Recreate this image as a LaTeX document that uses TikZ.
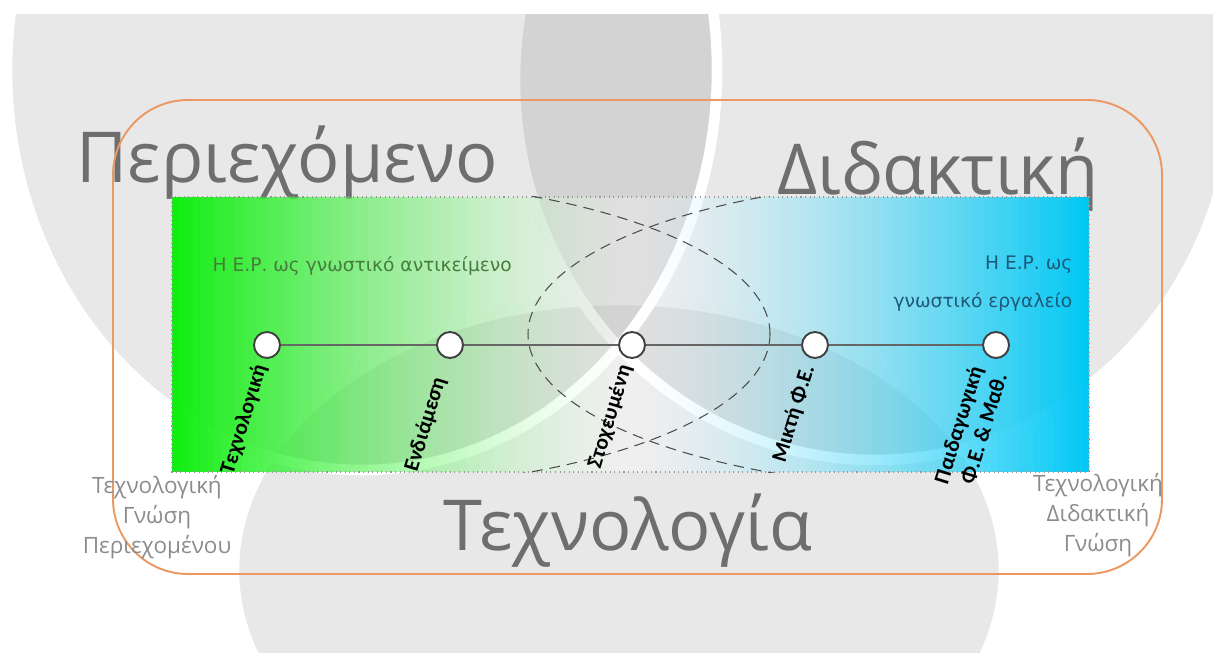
\documentclass[tikz,border=0pt]{standalone}
\usepackage{fontspec}
\usepackage{tikz}
\newfontfamily\bigfont{Open Sans}
\newfontfamily\notefont{DejaVu Sans}
\newfontfamily\lblfont{Carlito}
\definecolor{hepgreen}{RGB}{15,238,15}
\definecolor{hepblue}{RGB}{0,200,245}
\definecolor{heporange}{RGB}{236,152,98}
\definecolor{hepgray}{RGB}{110,110,110}
\definecolor{hepside}{RGB}{140,140,140}
\definecolor{hepgtext}{RGB}{70,125,60}
\definecolor{hepbtext}{RGB}{30,90,120}
\tikzset{
  venn/.style={fill=black, fill opacity=0.09, draw=white, line width=3pt},
  big/.style={font=\bigfont\fontsize{20}{24}\selectfont, text=hepgray, anchor=base, inner sep=0pt},
  side/.style={font=\bigfont\fontsize{6.4}{8.5}\selectfont, text=hepside, align=center, inner sep=0pt},
  note/.style={font=\notefont\fontsize{5.3}{10.8}\selectfont, inner sep=0pt},
  frame/.style={draw=heporange, line width=0.55pt, rounded corners=0.75cm},
  oval/.style={draw=black!70, densely dashed, line width=0.3pt},
  dot/.style={circle, draw=black!75, fill=white, line width=0.55pt, minimum size=0.26cm, inner sep=0pt},
  spine/.style={draw=black!60, line width=0.85pt},
  lbl/.style={font=\lblfont\bfseries\fontsize{6.2}{7.2}\selectfont, rotate=73, anchor=east, inner sep=0pt}
}
\begin{document}
\begin{tikzpicture}
\useasboundingbox (0,0) rectangle (12.13,-6.53);
% background circles
\begin{scope}
\clip (0,-0.15) rectangle (12.13,-6.53);
\draw[venn] (6.19,-5.70) ellipse (3.85 and 2.70);
\draw[venn] (8.75,-0.80) ellipse (3.60 and 3.80);
\draw[venn] (3.62,-0.70) ellipse (3.55 and 4.00);
\end{scope}
% titles
\node[big] (cont) at (2.87,-1.83) {Περιεχόμενο};
\node[big] (ped) at (9.38,-1.95) {Διδακτική};
\node[big] (tech) at (6.28,-5.50) {Τεχνολογία};
% frame and side texts
\draw[frame] (1.13,-1.00) rectangle (11.62,-5.74);
\node[side] (tpk) at (1.57,-5.17) {Τεχνολογική\\Γνώση\\Περιεχομένου};
\node[side] (tpck) at (10.98,-5.15) {Τεχνολογική\\Διδακτική\\Γνώση};
% band, green to clear to blue
\fill[white, fill opacity=0.3] (1.72,-1.97) rectangle (10.89,-4.72);
\foreach \k in {0,...,64} {
  \pgfmathsetmacro{\a}{(1-2*(\k+0.5)/131)^1.5}
  \fill[hepgreen, fill opacity=\a] ({1.72+0.07*\k},-1.97) rectangle ({1.79+0.07*\k},-4.72);
}
\foreach \k in {66,...,130} {
  \pgfmathsetmacro{\a}{(2*(\k+0.5)/131-1)^1.5}
  \fill[hepblue, fill opacity=\a] ({1.72+0.07*\k},-1.97) rectangle ({1.79+0.07*\k},-4.72);
}
\draw[densely dotted, black!40, line width=0.3pt] (1.72,-1.97) rectangle (10.89,-4.72);
\begin{scope}
\clip (1.72,-1.97) rectangle (10.89,-4.72);
\draw[oval] (3.30,-3.34) ellipse (4.40 and 1.55);
\draw[oval] (9.68,-3.34) ellipse (4.40 and 1.55);
\end{scope}
\node[note, text=hepgtext, anchor=west] (obj) at (2.12,-2.66) {Η Ε.Ρ. ως γνωστικό αντικείμενο};
\node[note, text=hepbtext, align=right, anchor=east] (tool) at (10.73,-2.84) {Η Ε.Ρ. ως\\γνωστικό εργαλείο};
% scale
\node[dot] (n1) at (2.67,-3.45) {};
\node[dot] (n2) at (4.50,-3.45) {};
\node[dot] (n3) at (6.32,-3.45) {};
\node[dot] (n4) at (8.15,-3.45) {};
\node[dot] (n5) at (9.96,-3.45) {};
\draw[spine] (n1) -- (n2);
\draw[spine] (n2) -- (n3);
\draw[spine] (n3) -- (n4);
\draw[spine] (n4) -- (n5);
\node[lbl] (l1) at ([shift={(253:0.07)}]n1.253) {Τεχνολογική};
\node[lbl] (l2) at ([shift={(253:0.20)}]n2.253) {Ενδιάμεση};
\node[lbl] (l3) at ([shift={(253:0.07)}]n3.253) {Στοχευμένη};
\node[lbl] (l4) at ([shift={(253:0.07)}]n4.253) {Μικτή Φ.Ε.};
\node[lbl, align=right] (l5) at ([shift={(253:0.12)}]n5.253) {Παιδαγωγική\\Φ.Ε. \& Μαθ.};
\end{tikzpicture}
\end{document}
